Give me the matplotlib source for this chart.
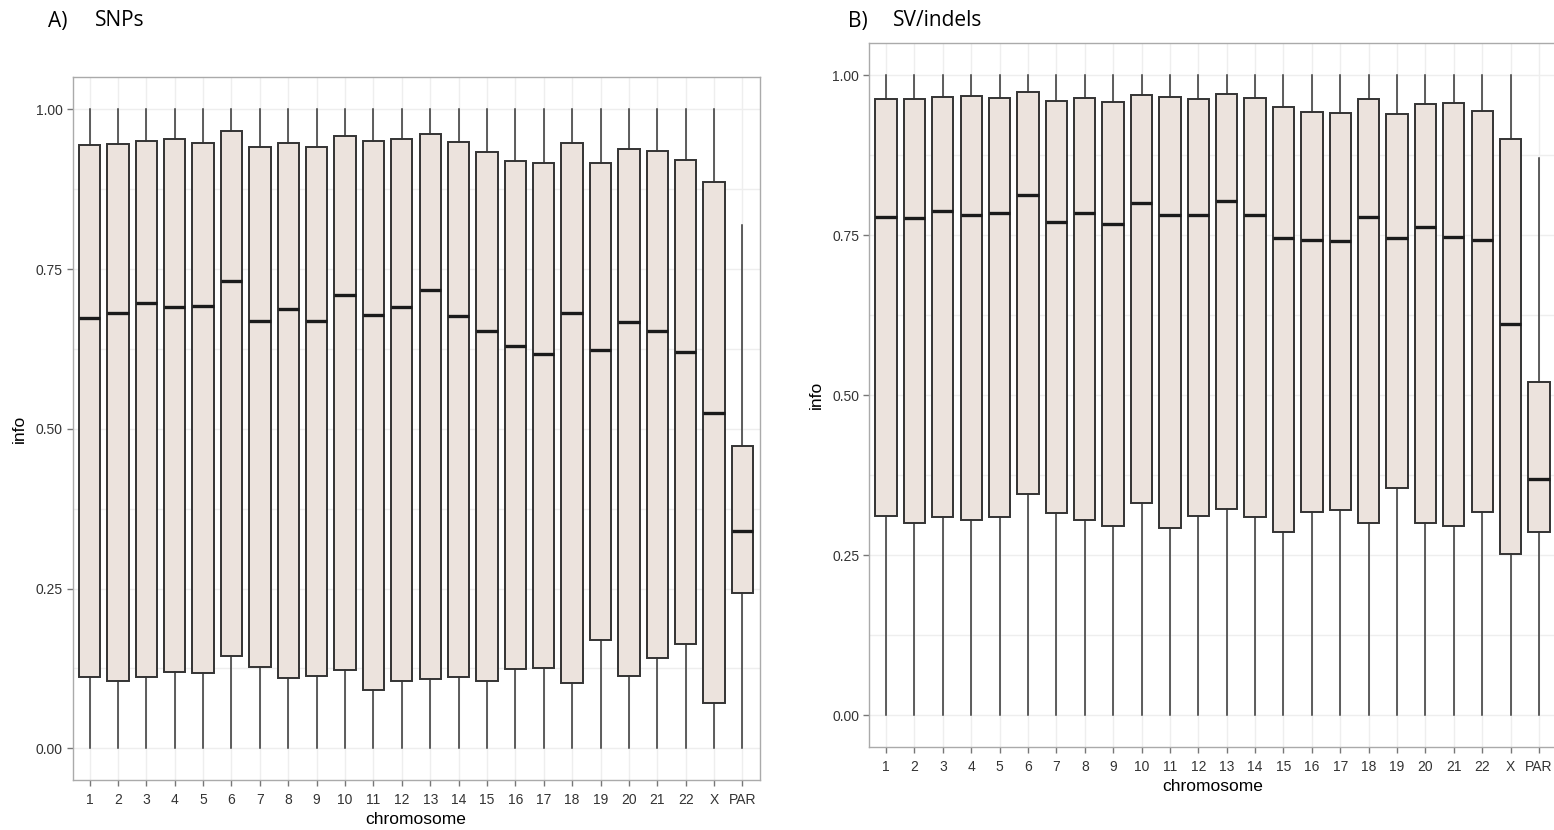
import numpy as np
import matplotlib
matplotlib.use('Agg')
import matplotlib.pyplot as plt

# chromosome categories
chromosomes = [str(i) for i in range(1, 23)] + ['X', 'PAR']
ytick_values = [0.00, 0.25, 0.50, 0.75, 1.00]
ytick_labels = ['0.00', '0.25', '0.50', '0.75', '1.00']

# A) SNPs - info score summaries per chromosome
snp_whislo = [0.0] * 24
snp_q1 = [0.112, 0.106, 0.112, 0.119, 0.118, 0.145, 0.127, 0.110, 0.113, 0.122,
          0.092, 0.106, 0.109, 0.112, 0.106, 0.124, 0.125, 0.103, 0.170, 0.113,
          0.142, 0.164, 0.071, 0.243]
snp_med = [0.673, 0.681, 0.697, 0.691, 0.692, 0.732, 0.669, 0.688, 0.669, 0.710,
           0.679, 0.691, 0.717, 0.677, 0.654, 0.629, 0.618, 0.682, 0.623, 0.668,
           0.654, 0.621, 0.525, 0.340]
snp_q3 = [0.945, 0.946, 0.950, 0.953, 0.947, 0.966, 0.941, 0.947, 0.941, 0.958,
          0.950, 0.953, 0.961, 0.949, 0.933, 0.920, 0.916, 0.948, 0.916, 0.938,
          0.935, 0.921, 0.886, 0.473]
snp_whishi = [1.0] * 23 + [0.819]

# B) SV/indels
sv_whislo = [0.0] * 24
sv_q1 = [0.312, 0.301, 0.310, 0.305, 0.310, 0.345, 0.316, 0.305, 0.295, 0.331,
         0.292, 0.312, 0.322, 0.310, 0.286, 0.317, 0.320, 0.300, 0.355, 0.301,
         0.295, 0.317, 0.252, 0.287]
sv_med = [0.779, 0.777, 0.788, 0.782, 0.785, 0.813, 0.771, 0.785, 0.768, 0.800,
          0.782, 0.782, 0.804, 0.782, 0.746, 0.742, 0.740, 0.779, 0.745, 0.762,
          0.747, 0.743, 0.611, 0.369]
sv_q3 = [0.962, 0.962, 0.965, 0.967, 0.964, 0.973, 0.960, 0.964, 0.958, 0.969,
         0.966, 0.963, 0.971, 0.964, 0.950, 0.943, 0.940, 0.962, 0.939, 0.954,
         0.956, 0.944, 0.900, 0.520]
sv_whishi = [1.0] * 23 + [0.871]

W, H = 1554, 830
fig = plt.figure(figsize=(W / 100, H / 100), dpi=100)

box_fill = '#ece3dd'
edge = '#333333'
tick_col = '#333333'


def draw_panel(ax, whislo, q1, med, q3, whishi):
    stats = []
    for i in range(len(chromosomes)):
        stats.append(dict(whislo=whislo[i], q1=q1[i], med=med[i], q3=q3[i],
                          whishi=whishi[i], label=chromosomes[i]))
    pos = np.arange(1, len(chromosomes) + 1)
    # grid (major + minor like ggplot)
    for y in np.arange(0, 1.01, 0.125):
        ax.axhline(y, color='#eeeeee', lw=1, zorder=0)
    for x in pos:
        ax.axvline(x, color='#eeeeee', lw=1, zorder=0)
    ax.bxp(stats, positions=pos, widths=0.75, showfliers=False, showcaps=False,
           patch_artist=True,
           boxprops=dict(facecolor=box_fill, edgecolor=edge, linewidth=1.4),
           whiskerprops=dict(color=edge, linewidth=1.1),
           medianprops=dict(color='#1a1a1a', linewidth=2.4),
           zorder=2)
    ax.set_xlim(0.4, len(chromosomes) + 0.6)
    ax.set_ylim(-0.05, 1.05)
    ax.set_xticks(pos)
    ax.set_xticklabels(chromosomes, fontsize=10, color=tick_col,
                       family='Liberation Sans')
    ax.set_yticks(ytick_values)
    ax.set_yticklabels(ytick_labels, fontsize=10, color=tick_col,
                       family='Liberation Sans')
    ax.tick_params(axis='x', length=4, width=1, color='#777777', pad=5)
    ax.tick_params(axis='y', length=4, width=1, color='#777777', pad=3)
    for s in ax.spines.values():
        s.set_color('#aaaaaa')
        s.set_linewidth(1)
    ax.set_xlabel('chromosome', fontsize=12.5, family='Liberation Sans', labelpad=4)
    ax.set_ylabel('info', fontsize=12.5, family='Liberation Sans', labelpad=6)


ax1 = fig.add_axes([72.5 / W, 1 - 780.3 / H, 687 / W, 702.8 / H])
draw_panel(ax1, snp_whislo, snp_q1, snp_med, snp_q3, snp_whishi)

ax2 = fig.add_axes([869 / W, 1 - 747.3 / H, 687 / W, 704.3 / H])
draw_panel(ax2, sv_whislo, sv_q1, sv_med, sv_q3, sv_whishi)

fig.text(48 / W, 1 - 21 / H, 'A)', fontsize=15, family='Open Sans', va='center')
fig.text(95 / W, 1 - 21 / H, 'SNPs', fontsize=15, family='Open Sans', va='center')
fig.text(848 / W, 1 - 21 / H, 'B)', fontsize=15, family='Open Sans', va='center')
fig.text(893 / W, 1 - 21 / H, 'SV/indels', fontsize=15, family='Open Sans', va='center')

fig.savefig('out.png', dpi=100)
